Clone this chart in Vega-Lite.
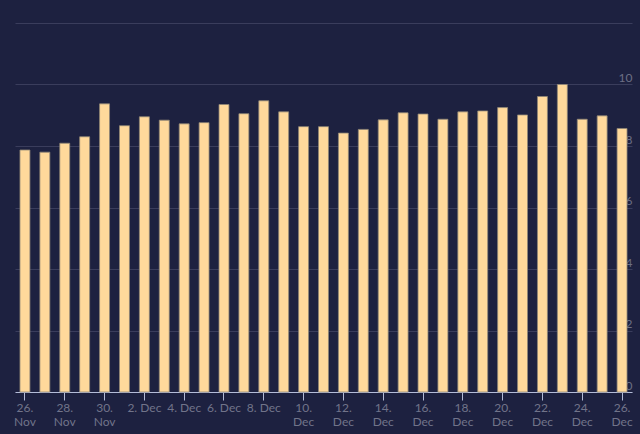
{
  "$schema": "https://vega.github.io/schema/vega-lite/v6.json",
  "width": 617,
  "height": 369,
  "autosize": "none",
  "padding": {"left": 15, "top": 23, "right": 8, "bottom": 42},
  "background": "#1d2140",
  "config": {
    "view": {"stroke": null},
    "font": "Lato"
  },
  "data": {
    "values": [
      {"day": "26. Nov", "value": 7.87},
      {"day": "27. Nov", "value": 7.80},
      {"day": "28. Nov", "value": 8.09},
      {"day": "29. Nov", "value": 8.30},
      {"day": "30. Nov", "value": 9.37},
      {"day": "1. Dec", "value": 8.66},
      {"day": "2. Dec", "value": 8.95},
      {"day": "3. Dec", "value": 8.84},
      {"day": "4. Dec", "value": 8.72},
      {"day": "5. Dec", "value": 8.76},
      {"day": "6. Dec", "value": 9.35},
      {"day": "7. Dec", "value": 9.05},
      {"day": "8. Dec", "value": 9.47},
      {"day": "9. Dec", "value": 9.11},
      {"day": "10. Dec", "value": 8.63},
      {"day": "11. Dec", "value": 8.63},
      {"day": "12. Dec", "value": 8.42},
      {"day": "13. Dec", "value": 8.54},
      {"day": "14. Dec", "value": 8.85},
      {"day": "15. Dec", "value": 9.08},
      {"day": "16. Dec", "value": 9.04},
      {"day": "17. Dec", "value": 8.87},
      {"day": "18. Dec", "value": 9.11},
      {"day": "19. Dec", "value": 9.14},
      {"day": "20. Dec", "value": 9.25},
      {"day": "21. Dec", "value": 9.01},
      {"day": "22. Dec", "value": 9.61},
      {"day": "23. Dec", "value": 10.0},
      {"day": "24. Dec", "value": 8.87},
      {"day": "25. Dec", "value": 8.98},
      {"day": "26. Dec", "value": 8.57}
    ]
  },
  "mark": {
    "type": "bar",
    "color": "#ffd99b",
    "stroke": "#8f8676",
    "strokeWidth": 0.8
  },
  "encoding": {
    "x": {
      "field": "day",
      "type": "ordinal",
      "sort": null,
      "scale": {"paddingInner": 0.5, "paddingOuter": 0.25},
      "axis": {
        "title": null,
        "labelAngle": 0,
        "values": ["26. Nov", "28. Nov", "30. Nov", "2. Dec", "4. Dec", "6. Dec", "8. Dec", "10. Dec", "12. Dec", "14. Dec", "16. Dec", "18. Dec", "20. Dec", "22. Dec", "24. Dec", "26. Dec"],
        "labelExpr": "length(datum.value) > 6 ? split(datum.value, ' ') : datum.value",
        "labelColor": "#71748a",
        "labelFontSize": 12,
        "labelLineHeight": 14,
        "labelPadding": 2,
        "labelBaseline": "top",
        "domainColor": "#b4bcd8",
        "domainWidth": 1,
        "tickColor": "#b4bcd8",
        "tickSize": 8,
        "tickWidth": 1,
        "grid": false
      }
    },
    "y": {
      "field": "value",
      "type": "quantitative",
      "scale": {"domain": [0, 12], "nice": false},
      "axis": {
        "title": null,
        "orient": "right",
        "values": [0, 2, 4, 6, 8, 10, 12],
        "labelExpr": "datum.value == 12 ? '' : datum.label",
        "labelAlign": "right",
        "labelBaseline": "alphabetic",
        "labelPadding": 0,
        "labelOffset": -3,
        "labelColor": "#6c6f85",
        "labelFontSize": 12,
        "ticks": false,
        "domain": false,
        "grid": true,
        "gridColor": "#3a3d5c",
        "gridWidth": 1
      }
    }
  }
}
